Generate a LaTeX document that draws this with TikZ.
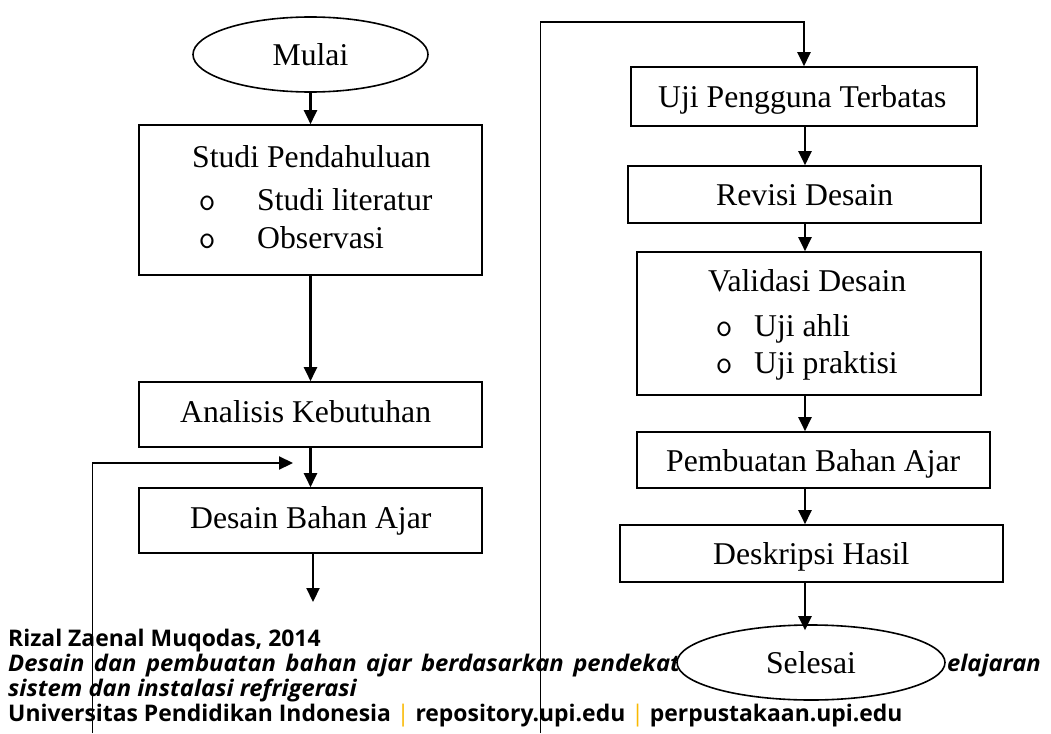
\documentclass[tikz,border=0pt]{standalone}
\usepackage{fontspec}
\setmainfont{Liberation Serif}
\newfontfamily\footfont{Open Sans}
\newfontfamily\footitfont[FakeStretch=1.04]{Open Sans}
\usetikzlibrary{arrows.meta,shapes.geometric}
\definecolor{upiorange}{RGB}{250,185,0}
\begin{document}
\begin{tikzpicture}[x=1pt,y=-1pt,
 box/.style={draw, line width=1.6pt, rectangle, inner sep=0pt},
 oval/.style={draw, ellipse, line width=1.6pt, inner sep=0pt, fill=white, font=\fontsize{31.7}{36}\selectfont},
 lbl/.style={anchor=base west, inner sep=0pt, font=\fontsize{31.7}{36}\selectfont},
 bul/.style={anchor=base, inner sep=0pt, font=\ttfamily\fontsize{33}{36}\selectfont},
 arr/.style={line width=2.2pt, -{Triangle[length=14pt,width=13pt]}},
 thinline/.style={line width=1pt},
 foot/.style={anchor=base west, inner sep=0pt, font=\footfont\bfseries\fontsize{22.9}{26}\selectfont},
 footit/.style={foot, font=\footitfont\bfseries\itshape\fontsize{22.9}{26}\selectfont}
]
\useasboundingbox (0,0) rectangle (1051,733);
\fill[white] (0,0) rectangle (1051,733);

% footer
\node[foot] (f1) at (8,646) {Rizal Zaenal Muqodas, 2014};
\node[footit] (f2a) at (8,671) {\makebox[686pt][s]{Desain dan pembuatan bahan ajar berdasarkan pendekata}};
\node[footit, anchor=base east] (f2b) at (1041,671) {elajaran};
\node[footit] (f3) at (8,696) {sistem dan instalasi refrigerasi};
\node[foot] (f4) at (8,721) {Universitas Pendidikan Indonesia {\color{upiorange}\mdseries|} repository.upi.edu {\color{upiorange}\mdseries|} perpustakaan.upi.edu};

% left column
\node[oval, minimum width=235pt, minimum height=75pt] (mulai) at (310.5,54.5) {Mulai};
\node[box, minimum width=343pt, minimum height=150pt] (studi) at (310.5,200) {};
\node[lbl] (t1) at (192,167) {Studi Pendahuluan};
\node[bul] (b1) at (207,210) {o};
\node[lbl] (t2) at (257,210) {Studi literatur};
\node[bul] (b2) at (207,248) {o};
\node[lbl] (t3) at (257,248) {Observasi};
\node[box, minimum width=343pt, minimum height=65pt] (anal) at (310.5,414.5) {};
\node[lbl] (t4) at (180,422) {Analisis Kebutuhan};
\node[box, minimum width=343pt, minimum height=65pt] (desain) at (310.5,520.5) {};
\node[lbl] (t5) at (190,528) {Desain Bahan Ajar};

% right column
\node[box, minimum width=346pt, minimum height=59pt] (uji) at (804,96.5) {};
\node[lbl] (t6) at (658,107) {Uji Pengguna Terbatas};
\node[box, minimum width=353pt, minimum height=57pt] (rev) at (804.5,194.5) {};
\node[lbl] (t7) at (716,205) {Revisi Desain};
\node[box, minimum width=344pt, minimum height=143pt] (val) at (809,323.5) {};
\node[lbl] (t8) at (708,291) {Validasi Desain};
\node[bul] (b3) at (724,336) {o};
\node[lbl] (t9) at (754,336) {Uji ahli};
\node[bul] (b4) at (724,373) {o};
\node[lbl] (t10) at (754,373) {Uji praktisi};
\node[box, minimum width=353pt, minimum height=56pt] (pemb) at (813.5,460) {};
\node[lbl] (t11) at (666,471) {Pembuatan Bahan Ajar};
\node[box, minimum width=383pt, minimum height=57pt] (desk) at (811.5,553.5) {};
\node[lbl] (t12) at (713,564) {Deskripsi Hasil};
\node[oval, minimum width=268pt, minimum height=75pt] (selesai) at (811,662.5) {Selesai};

% coordinates
\coordinate (dend) at (313,602);
\coordinate (fb0) at (92,733);
\coordinate (fbc) at (92,463);
\coordinate (fbtip) at (293,463);
\coordinate (r0) at (540,733);
\coordinate (rc) at (540,22);
\coordinate (rx) at (805,0);

% left connectors
\draw[arr] (mulai.south) -- (studi.north);
\draw[arr] (studi.south) -- (anal.north);
\draw[arr] (anal.south) -- (desain.north);
\draw[arr] (desain.south -| dend) -- (dend);
\draw[thinline] (fb0) -- (fbc);
\draw[arr] (fbc) -- (fbtip);

% right connectors
\draw[thinline] (r0) -- (rc);
\draw[arr] (rc) -| (uji.north);
\draw[arr] (uji.south -| rx) -- (rev.north -| rx);
\draw[arr] (rev.south -| rx) -- (val.north -| rx);
\draw[arr] (val.south -| rx) -- (pemb.north -| rx);
\draw[arr] (pemb.south -| rx) -- (desk.north -| rx);
\draw[arr] (desk.south -| rx) -- ([yshift=-6pt]selesai.north -| rx);
\end{tikzpicture}
\end{document}
